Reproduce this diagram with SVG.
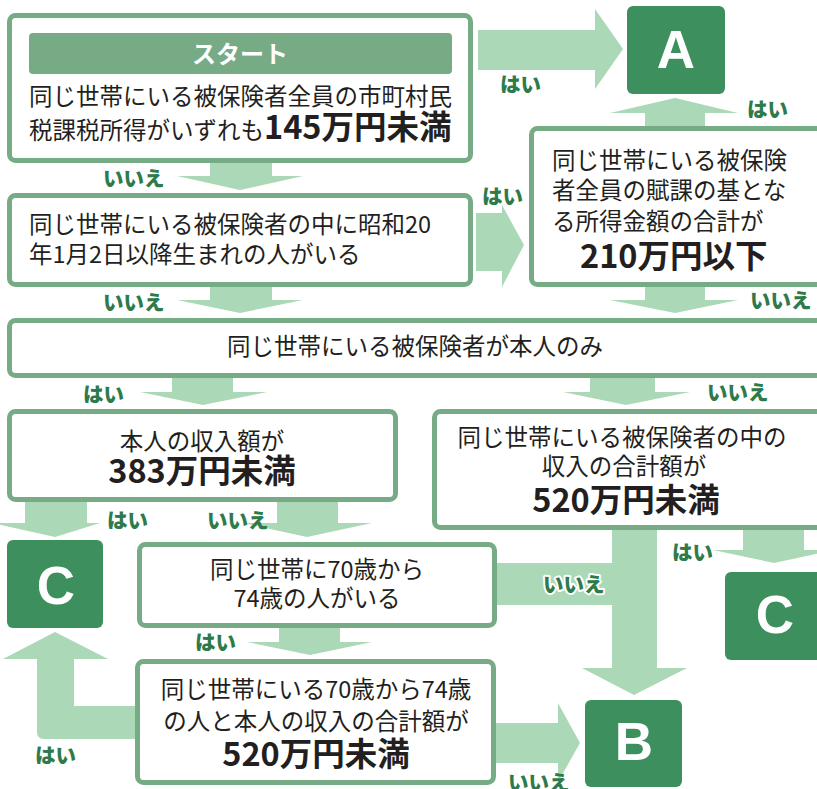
<svg xmlns="http://www.w3.org/2000/svg" width="817" height="789" viewBox="0 0 817 789">
<style>
.box{fill:#ffffff;stroke:#77ab86;stroke-width:5}
.dark{fill:#3d8f5d}
.arr{fill:#abd8b6}
.t{font-family:"Noto Sans CJK JP","Noto Sans",sans-serif;font-size:23.5px;fill:#231f20}
.big{font-family:"Noto Sans CJK JP","Noto Sans",sans-serif;font-size:32.5px;font-weight:bold;fill:#231f20}
.lbl{font-family:"Noto Sans CJK JP","Noto Sans",sans-serif;font-size:20.5px;font-weight:900;fill:#2e7a4b}
.halo{stroke:#ffffff;stroke-width:4;paint-order:stroke;stroke-linejoin:round}
.letter{font-family:"Liberation Sans",Arial,sans-serif;font-size:53px;font-weight:bold;fill:#ffffff;text-anchor:middle}
.m{text-anchor:middle}
</style>
<rect width="817" height="789" fill="#ffffff"/>
<g id="connectors">
  <polygon class="arr" points="478,30 595,30 595,9 623,49 595,89 595,70 478,70"/>
  <polygon class="arr" points="210,163 272,163 272,176 303,176 240,190 177,176 210,176"/>
  <polygon class="arr" points="210,287 272,287 272,300 303,300 240,313 177,300 210,300"/>
  <polygon class="arr" points="476,213 502,213 502,205 524,245 502,287 502,271 476,271"/>
  <polygon class="arr" points="645,127 705,127 705,113 738,113 675,98 610,113 645,113"/>
  <polygon class="arr" points="645,287 705,287 705,300 738,300 675,313 610,300 645,300"/>
  <polygon class="arr" points="172,377 233,377 233,392 267,392 203,405 140,392 172,392"/>
  <polygon class="arr" points="590,377 655,377 655,392 690,392 626,405 563,392 590,392"/>
  <polygon class="arr" points="25,501 87,501 87,523 100,523 55,537 -8,523 25,523"/>
  <polygon class="arr" points="277,501 338,501 338,523 372,523 307,537 243,523 277,523"/>
  <polygon class="arr" points="279,627 340,627 340,642 372,642 310,655 247,642 279,642"/>
  <path class="arr" d="M137,706 L74,706 L74,659 L108,659 L55,632 L3,659 L37,659 L37,732 Q37,739 44,739 L137,739 Z"/>
  <polygon class="arr" points="494,723 558,723 558,703 580,743 558,782 558,763 494,763"/>
  <polygon class="arr" points="612,529 657,529 657,668 687,668 634,695 582,668 612,668 612,605 495,605 495,563 612,563"/>
  <polygon class="arr" points="743,529 804,529 804,550 835,550 774,563 713,550 743,550"/>
  <text class="lbl" x="500" y="92">はい</text>
  <text class="lbl" x="103" y="186">いいえ</text>
  <text class="lbl" x="103" y="310">いいえ</text>
  <text class="lbl" x="482" y="204">はい</text>
  <text class="lbl" x="747" y="117">はい</text>
  <text class="lbl" x="750" y="308">いいえ</text>
  <text class="lbl" x="83" y="402">はい</text>
  <text class="lbl" x="707" y="400">いいえ</text>
  <text class="lbl" x="107" y="528">はい</text>
  <text class="lbl" x="207" y="528">いいえ</text>
  <text class="lbl" x="195" y="650">はい</text>
  <text class="lbl" x="35" y="763">はい</text>
  <text class="lbl halo" x="543" y="592">いいえ</text>
  <text class="lbl" x="672" y="560">はい</text>
  <text class="lbl" x="508" y="790">いいえ</text>
</g>
<g id="start">
  <rect class="box" x="9.5" y="15.5" width="461" height="145" rx="6"/>
  <rect x="29" y="33" width="423" height="41" rx="4" fill="#77ab86"/>
  <text x="240" y="63" class="m" font-family="'Noto Sans CJK JP',sans-serif" font-size="24" font-weight="bold" fill="#ffffff">スタート</text>
  <text class="t" x="29" y="105">同じ世帯にいる被保険者全員の市町村民</text>
  <text class="t" x="29" y="139">税課税所得がいずれも<tspan class="big">145万円未満</tspan></text>
</g>
<g id="q-showa20">
  <rect class="box" x="9.5" y="195.5" width="461" height="89" rx="6"/>
  <text class="t" x="29" y="233">同じ世帯にいる被保険者の中に昭和20</text>
  <text class="t" x="29" y="263">年1月2日以降生まれの人がいる</text>
</g>
<g id="q-210">
  <rect class="box" x="531.5" y="128.5" width="296" height="156" rx="6"/>
  <text class="t" x="552" y="169">同じ世帯にいる被保険</text>
  <text class="t" x="552" y="199">者全員の賦課の基とな</text>
  <text class="t" x="552" y="230">る所得金額の合計が</text>
  <text class="big" x="580" y="268">210万円以下</text>
</g>
<g id="q-single">
  <rect class="box" x="9.5" y="320.5" width="818" height="55" rx="6"/>
  <text class="t" x="227" y="355">同じ世帯にいる被保険者が本人のみ</text>
</g>
<g id="q-383">
  <rect class="box" x="9.5" y="411.5" width="386" height="88" rx="6"/>
  <text class="t m" x="202" y="450">本人の収入額が</text>
  <text class="big m" x="202" y="483">383万円未満</text>
</g>
<g id="q-520">
  <rect class="box" x="434.5" y="411.5" width="393" height="116" rx="6"/>
  <text class="t m" x="622" y="446">同じ世帯にいる被保険者の中の</text>
  <text class="t m" x="624" y="475">収入の合計額が</text>
  <text class="big m" x="626" y="512">520万円未満</text>
</g>
<g id="q-70-74">
  <rect class="box" x="139.5" y="544.5" width="355" height="81" rx="6"/>
  <text class="t m" x="317" y="578">同じ世帯に70歳から</text>
  <text class="t m" x="317" y="607">74歳の人がいる</text>
</g>
<g id="q-70-74-520">
  <rect class="box" x="137.5" y="661.5" width="356" height="121" rx="6"/>
  <text class="t m" x="316" y="698">同じ世帯にいる70歳から74歳</text>
  <text class="t m" x="316" y="730">の人と本人の収入の合計額が</text>
  <text class="big m" x="316" y="766">520万円未満</text>
</g>
<g id="result-A">
  <rect class="dark" x="627" y="6" width="98" height="88" rx="6"/>
  <text class="letter" x="676" y="68">A</text>
</g>
<g id="result-C-left">
  <rect class="dark" x="7" y="540" width="96" height="88" rx="6"/>
  <text class="letter" x="56" y="604">C</text>
</g>
<g id="result-C-right">
  <rect class="dark" x="725" y="572" width="100" height="88" rx="6"/>
  <text class="letter" x="775" y="633">C</text>
</g>
<g id="result-B">
  <rect class="dark" x="585" y="700" width="97" height="87" rx="6"/>
  <text class="letter" x="634" y="760">B</text>
</g>
</svg>
